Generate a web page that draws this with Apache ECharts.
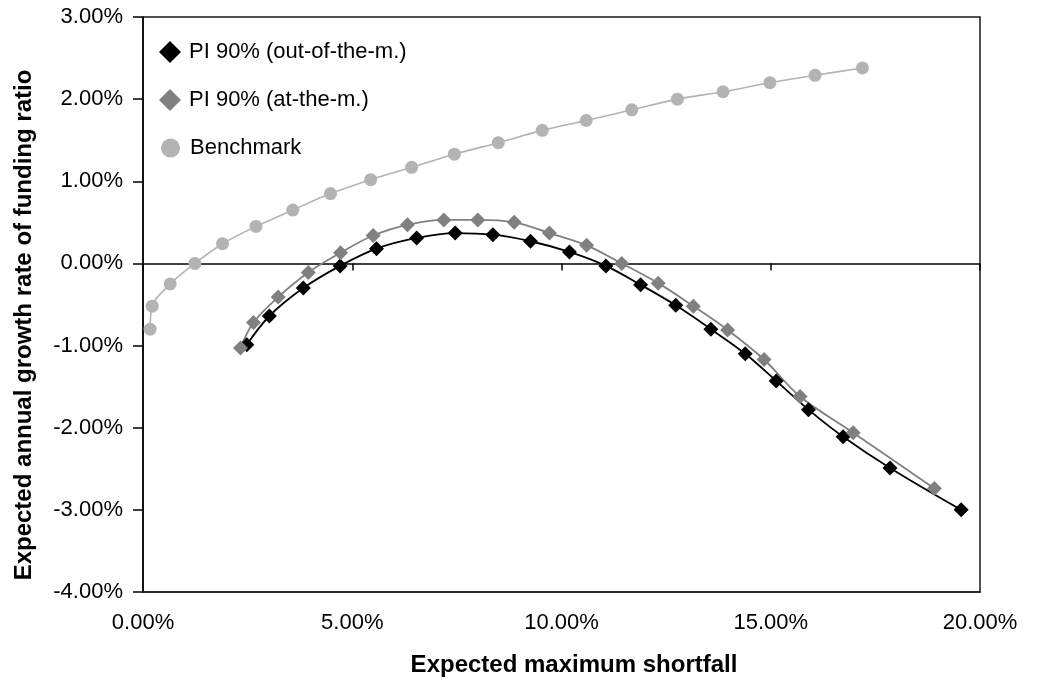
<!DOCTYPE html>
<html>
<head>
<meta charset="utf-8">
<title>Expected growth rate vs. expected maximum shortfall</title>
<script src="https://cdn.jsdelivr.net/npm/echarts@6/dist/echarts.min.js"></script>
<style>
  html, body { margin: 0; padding: 0; background: #fff; }
  #chart { width: 1042px; height: 681px; }
</style>
</head>
<body>
<div id="chart"></div>
<script>
// Series values, in percent
const outName = 'PI 90% (out-of-the-m.)';
const outX = [2.48, 3.02, 3.83, 4.71, 5.58, 6.54, 7.46, 8.36, 9.26, 10.19, 11.06, 11.89, 12.73, 13.57, 14.39, 15.13, 15.90, 16.73, 17.85, 19.55];
const outY = [-0.99, -0.64, -0.30, -0.03, 0.18, 0.31, 0.37, 0.35, 0.27, 0.14, -0.03, -0.26, -0.51, -0.80, -1.10, -1.43, -1.78, -2.11, -2.49, -3.00];

const atName = 'PI 90% (at-the-m.)';
const atX = [2.33, 2.64, 3.23, 3.95, 4.72, 5.50, 6.32, 7.19, 8.00, 8.87, 9.71, 10.60, 11.44, 12.31, 13.15, 13.97, 14.84, 15.70, 16.97, 18.91];
const atY = [-1.03, -0.72, -0.41, -0.11, 0.13, 0.34, 0.47, 0.53, 0.53, 0.50, 0.37, 0.22, 0.00, -0.24, -0.52, -0.81, -1.17, -1.62, -2.06, -2.74];

const benchName = 'Benchmark';
const benchX = [0.17, 0.22, 0.65, 1.24, 1.90, 2.70, 3.58, 4.48, 5.44, 6.42, 7.44, 8.49, 9.54, 10.59, 11.68, 12.77, 13.86, 14.98, 16.06, 17.19];
const benchY = [-0.80, -0.52, -0.25, 0.00, 0.24, 0.45, 0.65, 0.85, 1.02, 1.17, 1.33, 1.47, 1.62, 1.74, 1.87, 2.00, 2.09, 2.20, 2.29, 2.38];

// Axis ranges and titles
const xRange = { min: 0, max: 20, interval: 5 };
const yRange = { min: -4, max: 3, interval: 1 };
const xTitle = 'Expected maximum shortfall';
const yTitle = 'Expected annual growth rate of funding ratio';

const pairs = (xs, ys) => xs.map((x, i) => [x, ys[i]]);
const pct = v => v.toFixed(2) + '%';

const FONT = '"Liberation Sans", Arial, sans-serif';

const chart = echarts.init(document.getElementById('chart'), null, { renderer: 'canvas' });

chart.setOption({
  animation: false,
  backgroundColor: '#ffffff',
  textStyle: { fontFamily: FONT, color: '#000' },
  grid: {
    left: 143, right: 62, top: 17, bottom: 89,
    show: true, borderColor: '#1a1a1a', borderWidth: 1.5, backgroundColor: 'transparent'
  },
  legend: [
    {
      orient: 'vertical', left: 154, top: 36,
      itemWidth: 22, itemHeight: 22, itemGap: 26,
      textStyle: { fontFamily: FONT, fontSize: 22, color: '#000', padding: [0, 0, 0, 3] },
      data: [
        { name: outName, icon: 'diamond' },
        { name: atName, icon: 'diamond' }
      ]
    },
    {
      orient: 'vertical', left: 156, top: 132,
      itemWidth: 19, itemHeight: 19,
      textStyle: { fontFamily: FONT, fontSize: 22, color: '#000', padding: [0, 0, 0, 5] },
      data: [{ name: benchName, icon: 'circle' }]
    }
  ],
  xAxis: [
    {
      type: 'value', position: 'bottom',
      min: xRange.min, max: xRange.max, interval: xRange.interval,
      axisLine: { onZero: false, lineStyle: { color: '#1a1a1a', width: 1.5 } },
      axisTick: { show: false },
      splitLine: { show: false },
      axisLabel: { formatter: pct, fontFamily: FONT, fontSize: 22, color: '#000', margin: 20 }
    },
    {
      // zero line through the plot, with tick marks hanging below it
      type: 'value', position: 'top',
      min: xRange.min, max: xRange.max, interval: xRange.interval,
      axisLine: { onZero: true, lineStyle: { color: '#000', width: 1.5 } },
      axisTick: { show: true, inside: true, length: 7, lineStyle: { color: '#000', width: 1.5 } },
      splitLine: { show: false },
      axisLabel: { show: false }
    }
  ],
  yAxis: {
    type: 'value',
    min: yRange.min, max: yRange.max, interval: yRange.interval,
    axisLine: { show: true, onZero: false, lineStyle: { color: '#000', width: 1.5 } },
    axisTick: { show: true, length: 10, lineStyle: { color: '#000', width: 1.5 } },
    splitLine: { show: false },
    axisLabel: { formatter: pct, fontFamily: FONT, fontSize: 22, color: '#000', margin: 20 }
  },
  graphic: [
    {
      type: 'text', x: 574, y: 665,
      style: {
        text: xTitle, fontFamily: FONT, fontSize: 24, fontWeight: 'bold', fill: '#000',
        align: 'center', verticalAlign: 'middle'
      }
    },
    {
      type: 'text', x: 24, y: 325, rotation: Math.PI / 2,
      style: {
        text: yTitle, fontFamily: FONT, fontSize: 24, fontWeight: 'bold', fill: '#000',
        align: 'center', verticalAlign: 'middle'
      }
    }
  ],
  series: [
    {
      name: outName, type: 'line', smooth: 0.35,
      data: pairs(outX, outY),
      symbol: 'diamond', symbolSize: 15,
      lineStyle: { color: '#000', width: 1.8 },
      itemStyle: { color: '#000' }
    },
    {
      name: atName, type: 'line', smooth: 0.35,
      data: pairs(atX, atY),
      symbol: 'diamond', symbolSize: 15,
      lineStyle: { color: '#808080', width: 1.8 },
      itemStyle: { color: '#808080' }
    },
    {
      name: benchName, type: 'line', smooth: 0.35,
      data: pairs(benchX, benchY),
      symbol: 'circle', symbolSize: 13,
      lineStyle: { color: '#b3b3b3', width: 1.6 },
      itemStyle: { color: '#b3b3b3' }
    }
  ]
});
</script>
</body>
</html>
